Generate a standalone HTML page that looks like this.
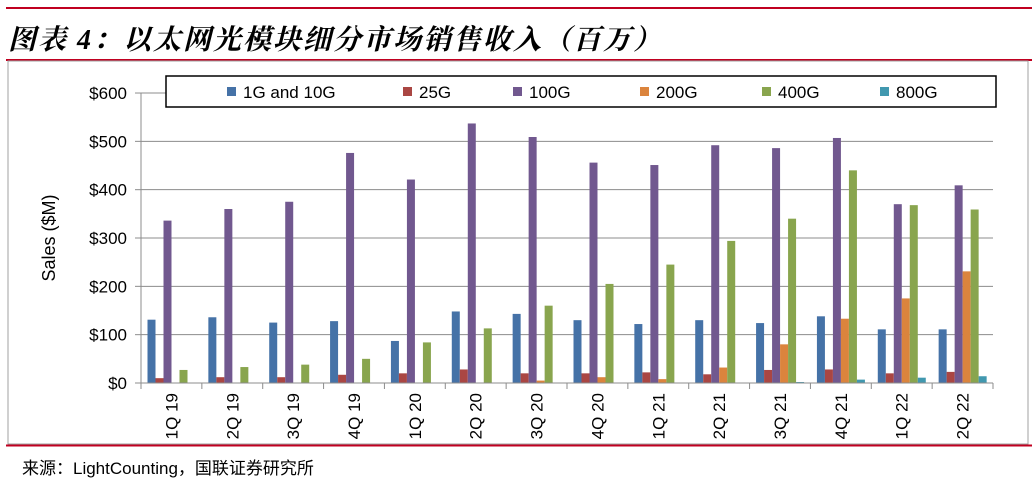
<!DOCTYPE html>
<html><head><meta charset="utf-8"><style>
body{margin:0;width:1032px;height:482px;background:#fff;overflow:hidden;font-family:"Liberation Sans","Noto Sans CJK SC",sans-serif}
</style></head><body>
<svg id="s" width="1032" height="482" xmlns="http://www.w3.org/2000/svg" font-family="Liberation Sans, Noto Sans CJK SC, sans-serif">
<line x1="6" y1="8" x2="1032" y2="8" stroke="#c00020" stroke-width="2"/>
<text x="8" y="49" font-size="28" letter-spacing="2" font-style="italic" font-weight="bold" font-family="Liberation Serif, Noto Serif CJK SC, serif">图表 4：以太网光模块细分市场销售收入（百万）</text>
<line x1="6" y1="60" x2="1032" y2="60" stroke="#c00020" stroke-width="2"/>
<rect x="8" y="61" width="1020" height="383" fill="none" stroke="#a0a0a0" stroke-width="1"/>
<line x1="6" y1="445.5" x2="1032" y2="445.5" stroke="#c00020" stroke-width="2"/>
<text x="22" y="474" font-size="17">来源：LightCounting，国联证券研究所</text>
<g id="g"></g>
</svg>
<script>
const g=document.getElementById('g');let h='';
const x0=141,x1=993,y0=383,py=0.4833;
const gw=(x1-x0)/14;
for(let v=0;v<=600;v+=100){const y=y0-v*py;
 if(v>0)h+=`<line x1="${x0}" y1="${y}" x2="${x1}" y2="${y}" stroke="#8c8c8c" stroke-width="1"/>`;
 h+=`<line x1="${x0-6}" y1="${y}" x2="${x0}" y2="${y}" stroke="#8c8c8c"/>`;
 h+=`<text x="${x0-14}" y="${y+6}" font-size="17" text-anchor="end">$${v}</text>`;}
h+=`<text transform="translate(55,238) rotate(-90)" font-size="18" text-anchor="middle">Sales ($M)</text>`;
const cols=['#4572a7','#aa4643','#71588f','#db843d','#89a54e','#4198af'];
const d=[[131,136,125,128,87,148,143,130,122,130,124,138,111,111],
[10,12,12,17,20,28,20,20,22,18,27,28,20,23],
[336,360,375,476,421,537,509,456,451,492,486,507,370,409],
[0,0,0,0,0,0,5,12,8,32,80,133,175,231],
[27,33,38,50,84,113,160,205,245,294,340,440,368,359],
[0,0,0,0,0,0,0,0,0,0,2,7,11,14]];
const labs=['1Q 19','2Q 19','3Q 19','4Q 19','1Q 20','2Q 20','3Q 20','4Q 20','1Q 21','2Q 21','3Q 21','4Q 21','1Q 22','2Q 22'];
for(let i=0;i<14;i++){const gx=x0+i*gw;
 for(let s=0;s<6;s++){const v=d[s][i];if(!v)continue;const bh=v*py;
  h+=`<rect x="${gx+6.5+s*8}" y="${y0-bh}" width="8" height="${bh}" fill="${cols[s]}"/>`;}
 h+=`<line x1="${gx}" y1="${y0}" x2="${gx}" y2="${y0+6}" stroke="#8c8c8c"/>`;
 h+=`<text transform="translate(${gx+gw/2+6},${y0+10}) rotate(-90)" font-size="17" text-anchor="end">${labs[i]}</text>`;}
h+=`<line x1="${x1}" y1="${y0}" x2="${x1}" y2="${y0+6}" stroke="#8c8c8c"/>`;
h+=`<line x1="${x0}" y1="${y0}" x2="${x1}" y2="${y0}" stroke="#8c8c8c"/>`;
h+=`<line x1="${x0}" y1="${y0-600*py}" x2="${x0}" y2="${y0}" stroke="#8c8c8c"/>`;
h+=`<rect x="166" y="76" width="830" height="31" fill="#fff" stroke="#000" stroke-width="1.5"/>`;
const ln=['1G and 10G','25G','100G','200G','400G','800G'],lx=[227,403,513,640,762,880];
for(let s=0;s<6;s++){h+=`<rect x="${lx[s]}" y="87" width="9" height="9" fill="${cols[s]}"/><text x="${lx[s]+16}" y="98" font-size="17">${ln[s]}</text>`;}
g.innerHTML=h;
</script>
</body></html>
